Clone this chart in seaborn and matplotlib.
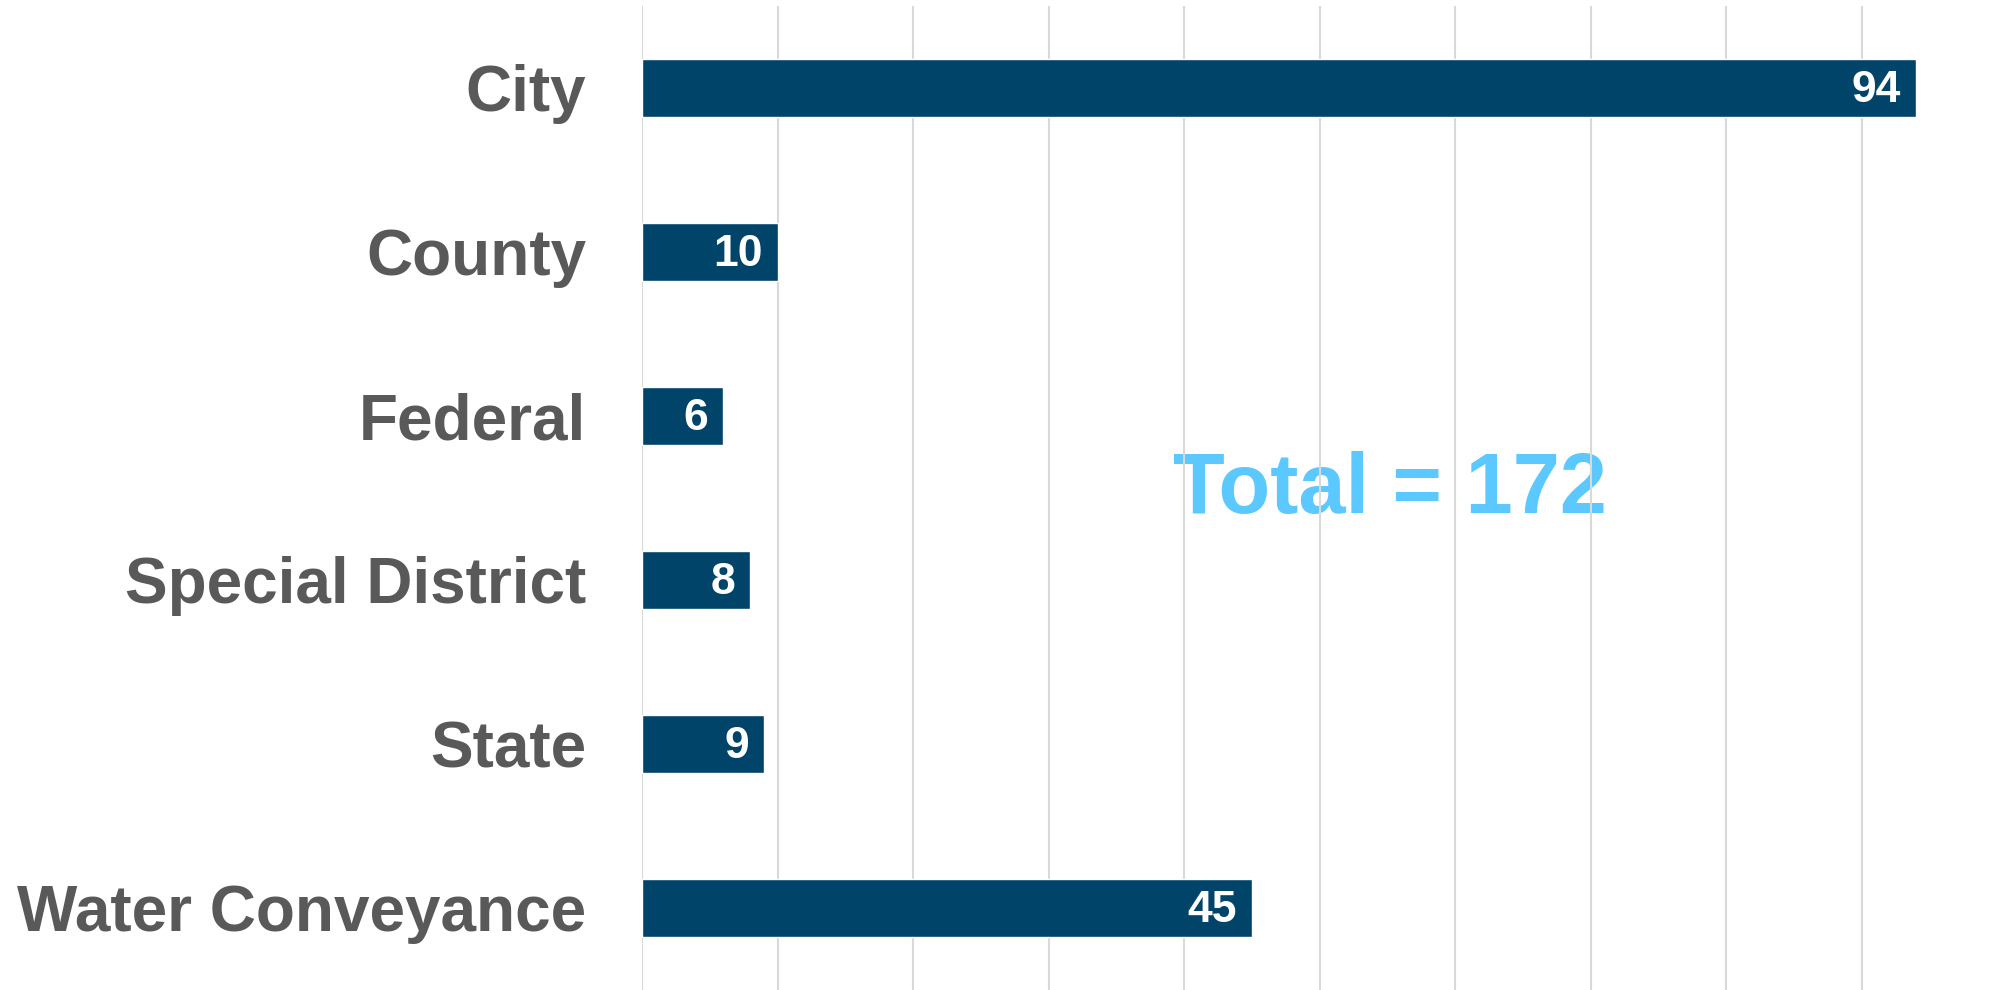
import matplotlib
matplotlib.use("Agg")
import matplotlib.pyplot as plt
import seaborn as sns
import pandas as pd

# data
categories = ["City", "County", "Federal", "Special District", "State", "Water Conveyance"]
counts = [94, 10, 6, 8, 9, 45]
total_label = "Total = 172"

bar_color = "#00446A"
label_color = "#595959"
total_color = "#5BC8FF"

df = pd.DataFrame({"category": categories, "count": counts})

sns.set_theme(style="white")
plt.rcParams["font.family"] = ["Liberation Sans", "DejaVu Sans"]

fig = plt.figure(figsize=(19.97, 9.90), dpi=100)
ax = fig.add_axes([0.3215, 0.0, 0.6785, 0.994])

sns.barplot(data=df, x="count", y="category", orient="h", color=bar_color,
            saturation=1, width=0.35, ax=ax, zorder=3)

ax.set_xlim(0, 100)
ax.set_ylim(5.5, -0.5)
ax.set_xticks(range(0, 100, 10))
ax.set_xticklabels([])
ax.grid(axis="x", color="#D9D9D9", linewidth=1.5, zorder=2)
ax.set_axisbelow(False)
ax.tick_params(axis="both", length=0)
ax.tick_params(axis="y", pad=40)
for lab in ax.get_yticklabels():
    lab.set_fontsize(46)
    lab.set_fontweight("bold")
    lab.set_color(label_color)
ax.set_xlabel("")
ax.set_ylabel("")
for s in ax.spines.values():
    s.set_visible(False)

# value labels inside bar ends
for i, v in enumerate(counts):
    ax.annotate(str(v), xy=(v, i), xytext=(-11, -2), textcoords="offset points",
                ha="right", va="center", color="white", fontsize=32,
                fontweight="bold", zorder=4)

ax.text(55.2, 2.46, total_label, ha="center", va="center", color=total_color,
        fontsize=61, fontweight="bold", zorder=1)

fig.savefig("out.png", dpi=100)
plt.close(fig)
